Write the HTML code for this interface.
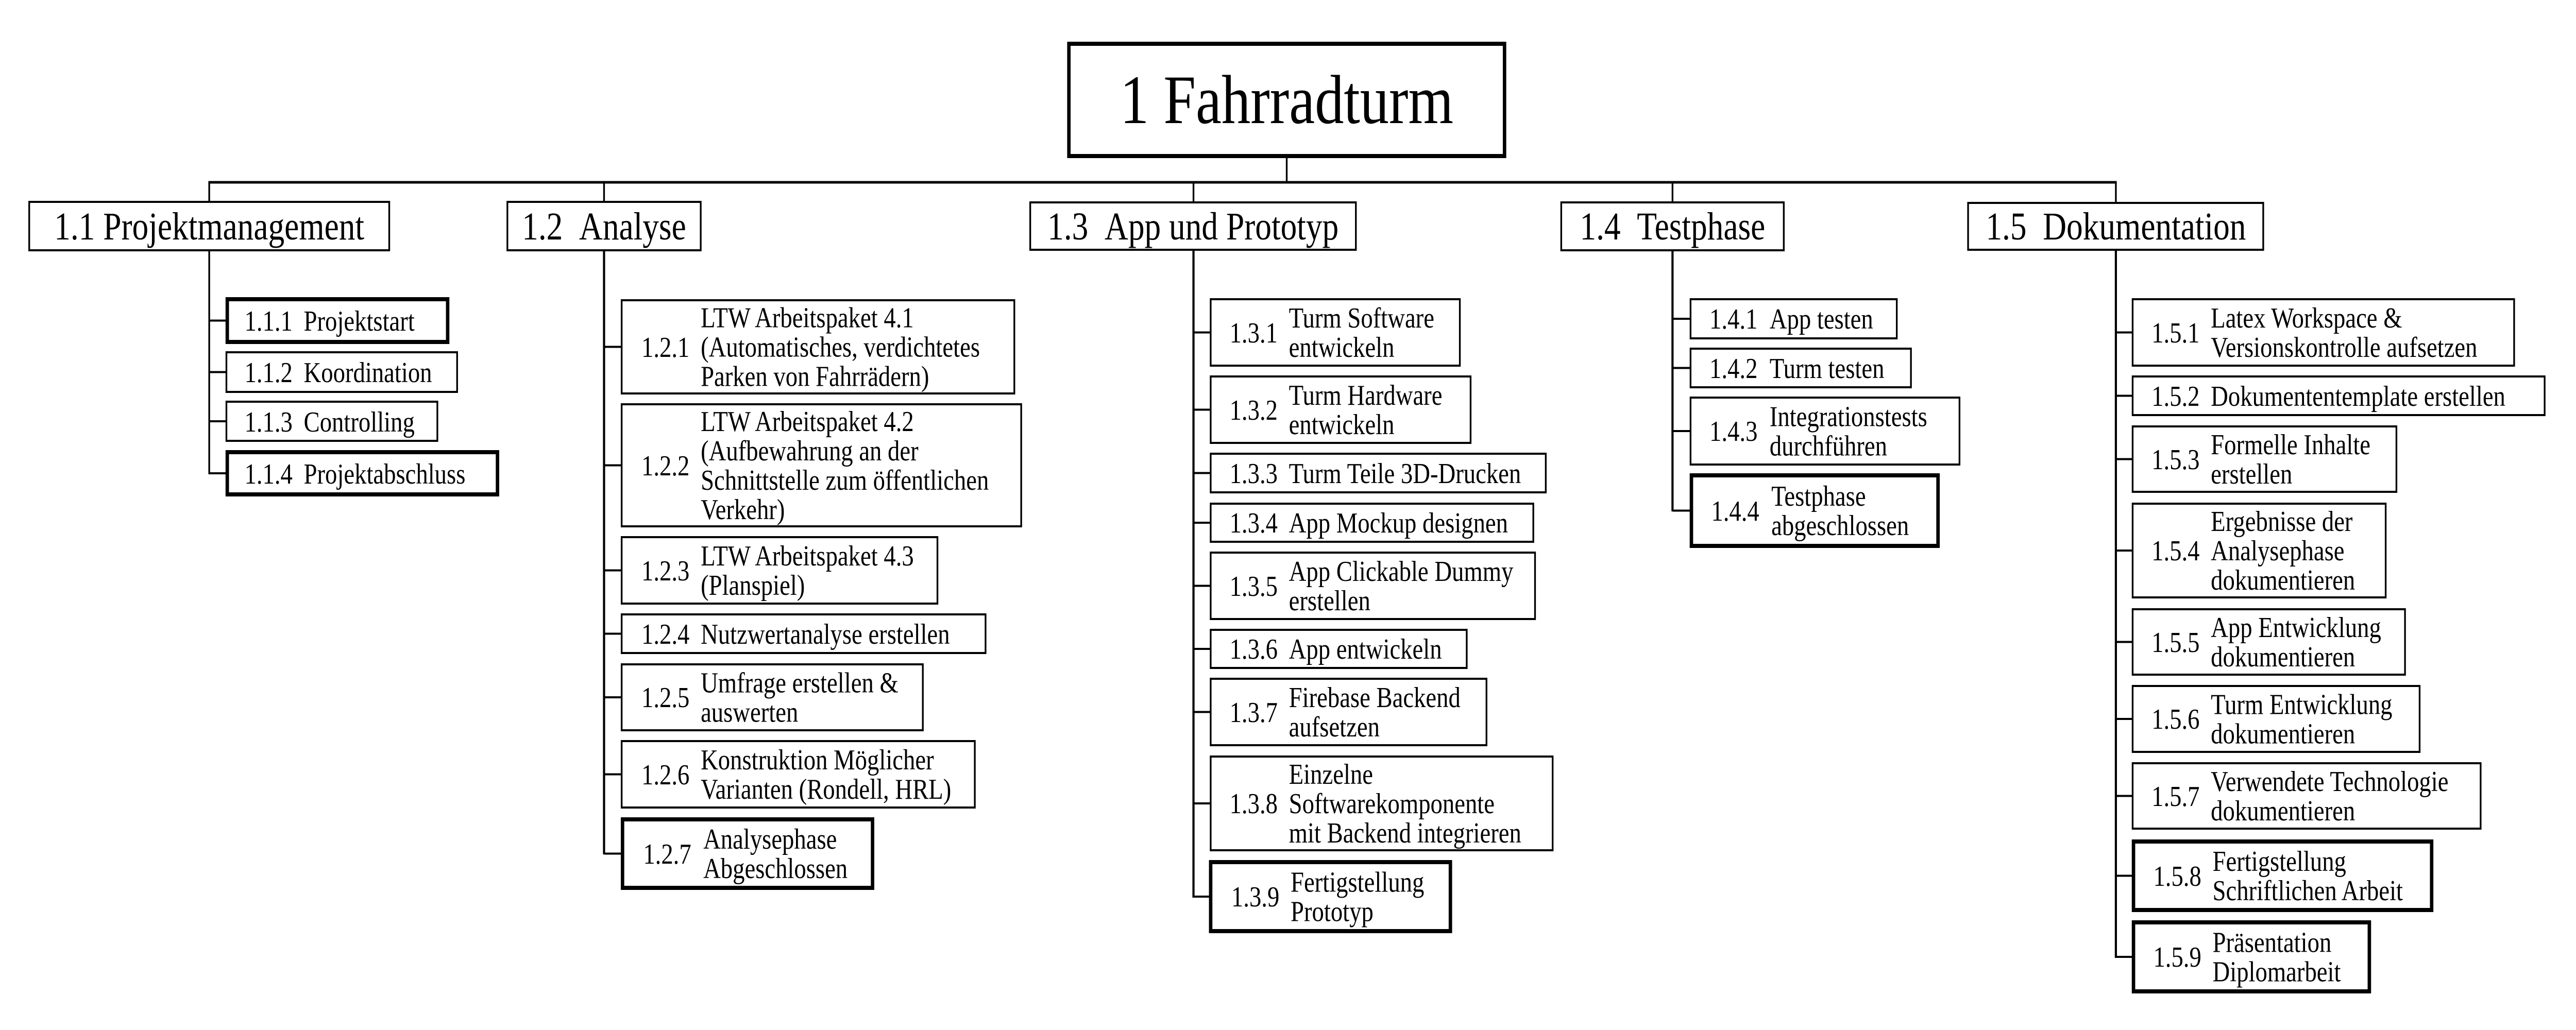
<!DOCTYPE html>
<html><head><meta charset="utf-8">
<style>
html,body{margin:0;padding:0;width:100%;height:100%;overflow:hidden;background:#fff}
svg{display:block;width:100vw;height:100vh}
text{font-family:"Liberation Serif",serif;font-size:56px;fill:#000}
.h{font-size:76px;text-anchor:middle}
.r{font-size:135px;text-anchor:middle}
rect{fill:#fff;stroke:#000;stroke-width:4}
rect.t{stroke-width:8}
line{stroke:#000;stroke-width:4}
</style></head><body>
<svg viewBox="0 0 5996 2000" preserveAspectRatio="none" xmlns="http://www.w3.org/2000/svg">
<rect x="0" y="0" width="5996" height="2000" style="stroke:none;fill:#fff"/>
<!-- connectors -->
<line x1="2995" y1="303" x2="2995" y2="354"/>
<line x1="485" y1="354" x2="4927" y2="354" style="stroke-width:5"/>
<line x1="487" y1="354" x2="487" y2="392"/>
<line x1="1406" y1="354" x2="1406" y2="392"/>
<line x1="2778" y1="354" x2="2778" y2="393"/>
<line x1="3893" y1="354" x2="3893" y2="393"/>
<line x1="4925" y1="354" x2="4925" y2="394"/>

<line x1="487" y1="486" x2="487" y2="921"/>
<line x1="487" y1="622.5" x2="527" y2="622.5"/>
<line x1="487" y1="722.5" x2="527" y2="722.5"/>
<line x1="487" y1="818" x2="527" y2="818"/>
<line x1="487" y1="919" x2="527" y2="919"/>

<line x1="1406" y1="486" x2="1406" y2="1659" style="stroke-width:5"/>
<line x1="1406" y1="673.5" x2="1447" y2="673.5"/>
<line x1="1406" y1="903.5" x2="1447" y2="903.5"/>
<line x1="1406" y1="1107.5" x2="1447" y2="1107.5"/>
<line x1="1406" y1="1230.5" x2="1447" y2="1230.5"/>
<line x1="1406" y1="1354" x2="1447" y2="1354"/>
<line x1="1406" y1="1503.5" x2="1447" y2="1503.5"/>
<line x1="1406" y1="1657.5" x2="1449" y2="1657.5"/>

<line x1="2778" y1="485" x2="2778" y2="1743" style="stroke-width:5"/>
<line x1="2778" y1="645.5" x2="2818" y2="645.5"/>
<line x1="2778" y1="795.5" x2="2818" y2="795.5"/>
<line x1="2778" y1="918.5" x2="2818" y2="918.5"/>
<line x1="2778" y1="1015" x2="2818" y2="1015"/>
<line x1="2778" y1="1137.5" x2="2818" y2="1137.5"/>
<line x1="2778" y1="1260" x2="2818" y2="1260"/>
<line x1="2778" y1="1382.5" x2="2818" y2="1382.5"/>
<line x1="2778" y1="1560" x2="2818" y2="1560"/>
<line x1="2778" y1="1741" x2="2818" y2="1741"/>

<line x1="3893" y1="486" x2="3893" y2="993" style="stroke-width:5"/>
<line x1="3893" y1="619" x2="3935" y2="619"/>
<line x1="3893" y1="714.5" x2="3935" y2="714.5"/>
<line x1="3893" y1="837" x2="3935" y2="837"/>
<line x1="3893" y1="991.5" x2="3937" y2="991.5"/>

<line x1="4925" y1="485" x2="4925" y2="1860" style="stroke-width:5"/>
<line x1="4925" y1="645.5" x2="4964" y2="645.5"/>
<line x1="4925" y1="768.5" x2="4964" y2="768.5"/>
<line x1="4925" y1="891.5" x2="4964" y2="891.5"/>
<line x1="4925" y1="1069" x2="4964" y2="1069"/>
<line x1="4925" y1="1246.5" x2="4964" y2="1246.5"/>
<line x1="4925" y1="1396" x2="4964" y2="1396"/>
<line x1="4925" y1="1545.5" x2="4964" y2="1545.5"/>
<line x1="4925" y1="1700.5" x2="4966" y2="1700.5"/>
<line x1="4925" y1="1858" x2="4966" y2="1858"/>

<!-- root and headers -->
<rect class="t" x="2488" y="85" width="1014" height="218"/>
<text class="r" x="2995" y="239">1 Fahrradturm</text>
<rect x="68" y="392" width="838" height="94"/><text class="h" x="487" y="465">1.1&#160;Projektmanagement</text>
<rect x="1181" y="392" width="450" height="94"/><text class="h" x="1406" y="465">1.2&#160;&#160;Analyse</text>
<rect x="2398" y="393" width="758" height="92"/><text class="h" x="2777" y="465">1.3&#160;&#160;App und Prototyp</text>
<rect x="3634" y="393" width="518" height="93"/><text class="h" x="3893" y="465">1.4&#160;&#160;Testphase</text>
<rect x="4581" y="394" width="687" height="91"/><text class="h" x="4925" y="465">1.5&#160;&#160;Dokumentation</text>

<!-- 1.1 -->
<rect class="t" x="529" y="581" width="513" height="83"/><text x="569" y="642">1.1.1</text><text x="707" y="642">Projektstart</text>
<rect x="527" y="684" width="537" height="77"/><text x="569" y="742">1.1.2</text><text x="707" y="742">Koordination</text>
<rect x="527" y="780" width="491" height="76"/><text x="569" y="838">1.1.3</text><text x="707" y="838">Controlling</text>
<rect class="t" x="529" y="878" width="629" height="82"/><text x="569" y="939">1.1.4</text><text x="707" y="939">Projektabschluss</text>

<!-- 1.2 -->
<rect x="1447" y="583" width="914" height="181"/><text x="1493" y="693">1.2.1</text>
<text x="1631" y="635.5">LTW Arbeitspaket 4.1</text><text x="1631" y="692.5">(Automatisches, verdichtetes</text><text x="1631" y="749.5">Parken von Fahrrädern)</text>
<rect x="1447" y="785" width="930" height="237"/><text x="1493" y="923">1.2.2</text>
<text x="1631" y="837">LTW Arbeitspaket 4.2</text><text x="1631" y="894">(Aufbewahrung an der</text><text x="1631" y="951">Schnittstelle zum öffentlichen</text><text x="1631" y="1008">Verkehr)</text>
<rect x="1447" y="1043" width="735" height="129"/><text x="1493" y="1127">1.2.3</text>
<text x="1631" y="1098">LTW Arbeitspaket 4.3</text><text x="1631" y="1155">(Planspiel)</text>
<rect x="1447" y="1193" width="847" height="75"/><text x="1493" y="1250">1.2.4</text><text x="1631" y="1250">Nutzwertanalyse erstellen</text>
<rect x="1447" y="1290" width="701" height="128"/><text x="1493" y="1373">1.2.5</text>
<text x="1631" y="1344.5">Umfrage erstellen &amp;</text><text x="1631" y="1401.5">auswerten</text>
<rect x="1447" y="1439" width="822" height="129"/><text x="1493" y="1523">1.2.6</text>
<text x="1631" y="1494">Konstruktion Möglicher</text><text x="1631" y="1551">Varianten (Rondell, HRL)</text>
<rect class="t" x="1449" y="1591" width="582" height="133"/><text x="1497" y="1677">1.2.7</text>
<text x="1637" y="1648">Analysephase</text><text x="1637" y="1705">Abgeschlossen</text>

<!-- 1.3 -->
<rect x="2818" y="581" width="580" height="129"/><text x="2862" y="665">1.3.1</text><text x="3000" y="636">Turm Software</text><text x="3000" y="693">entwickeln</text>
<rect x="2818" y="731" width="605" height="129"/><text x="2862" y="815">1.3.2</text><text x="3000" y="786">Turm Hardware</text><text x="3000" y="843">entwickeln</text>
<rect x="2818" y="881" width="780" height="75"/><text x="2862" y="938">1.3.3</text><text x="3000" y="938">Turm Teile 3D-Drucken</text>
<rect x="2818" y="978" width="751" height="74"/><text x="2862" y="1034">1.3.4</text><text x="3000" y="1034">App Mockup designen</text>
<rect x="2818" y="1073" width="755" height="129"/><text x="2862" y="1157">1.3.5</text><text x="3000" y="1128">App Clickable Dummy</text><text x="3000" y="1185">erstellen</text>
<rect x="2818" y="1223" width="596" height="74"/><text x="2862" y="1279">1.3.6</text><text x="3000" y="1279">App entwickeln</text>
<rect x="2818" y="1318" width="642" height="129"/><text x="2862" y="1402">1.3.7</text><text x="3000" y="1373">Firebase Backend</text><text x="3000" y="1430">aufsetzen</text>
<rect x="2818" y="1469" width="796" height="182"/><text x="2862" y="1579">1.3.8</text><text x="3000" y="1522">Einzelne</text><text x="3000" y="1579">Softwarekomponente</text><text x="3000" y="1636">mit Backend integrieren</text>
<rect class="t" x="2818" y="1674" width="558" height="134"/><text x="2866" y="1760">1.3.9</text><text x="3004" y="1731.5">Fertigstellung</text><text x="3004" y="1788.5">Prototyp</text>

<!-- 1.4 -->
<rect x="3935" y="581" width="480" height="76"/><text x="3979" y="638">1.4.1</text><text x="4119" y="638">App testen</text>
<rect x="3935" y="677" width="513" height="75"/><text x="3979" y="734">1.4.2</text><text x="4119" y="734">Turm testen</text>
<rect x="3935" y="772" width="626" height="130"/><text x="3979" y="856">1.4.3</text><text x="4119" y="827.5">Integrationstests</text><text x="4119" y="884.5">durchführen</text>
<rect class="t" x="3937" y="923" width="574" height="137"/><text x="3983" y="1011">1.4.4</text><text x="4123" y="982">Testphase</text><text x="4123" y="1039">abgeschlossen</text>

<!-- 1.5 -->
<rect x="4964" y="581" width="888" height="129"/><text x="5008" y="665">1.5.1</text><text x="5146" y="636">Latex Workspace &amp;</text><text x="5146" y="693">Versionskontrolle aufsetzen</text>
<rect x="4964" y="731" width="959" height="75"/><text x="5008" y="788">1.5.2</text><text x="5146" y="788">Dokumententemplate erstellen</text>
<rect x="4964" y="828" width="614" height="127"/><text x="5008" y="911">1.5.3</text><text x="5146" y="882">Formelle Inhalte</text><text x="5146" y="939">erstellen</text>
<rect x="4964" y="978" width="589" height="182"/><text x="5008" y="1088">1.5.4</text><text x="5146" y="1031">Ergebnisse der</text><text x="5146" y="1088">Analysephase</text><text x="5146" y="1145">dokumentieren</text>
<rect x="4964" y="1183" width="634" height="127"/><text x="5008" y="1266">1.5.5</text><text x="5146" y="1237">App Entwicklung</text><text x="5146" y="1294">dokumentieren</text>
<rect x="4964" y="1332" width="668" height="128"/><text x="5008" y="1415">1.5.6</text><text x="5146" y="1386.5">Turm Entwicklung</text><text x="5146" y="1443.5">dokumentieren</text>
<rect x="4964" y="1482" width="810" height="127"/><text x="5008" y="1565">1.5.7</text><text x="5146" y="1536">Verwendete Technologie</text><text x="5146" y="1593">dokumentieren</text>
<rect class="t" x="4966" y="1634" width="694" height="133"/><text x="5012" y="1720">1.5.8</text><text x="5150" y="1691">Fertigstellung</text><text x="5150" y="1748">Schriftlichen Arbeit</text>
<rect class="t" x="4966" y="1791" width="549" height="134"/><text x="5012" y="1877">1.5.9</text><text x="5150" y="1848.5">Präsentation</text><text x="5150" y="1905.5">Diplomarbeit</text>
</svg>
</body></html>
